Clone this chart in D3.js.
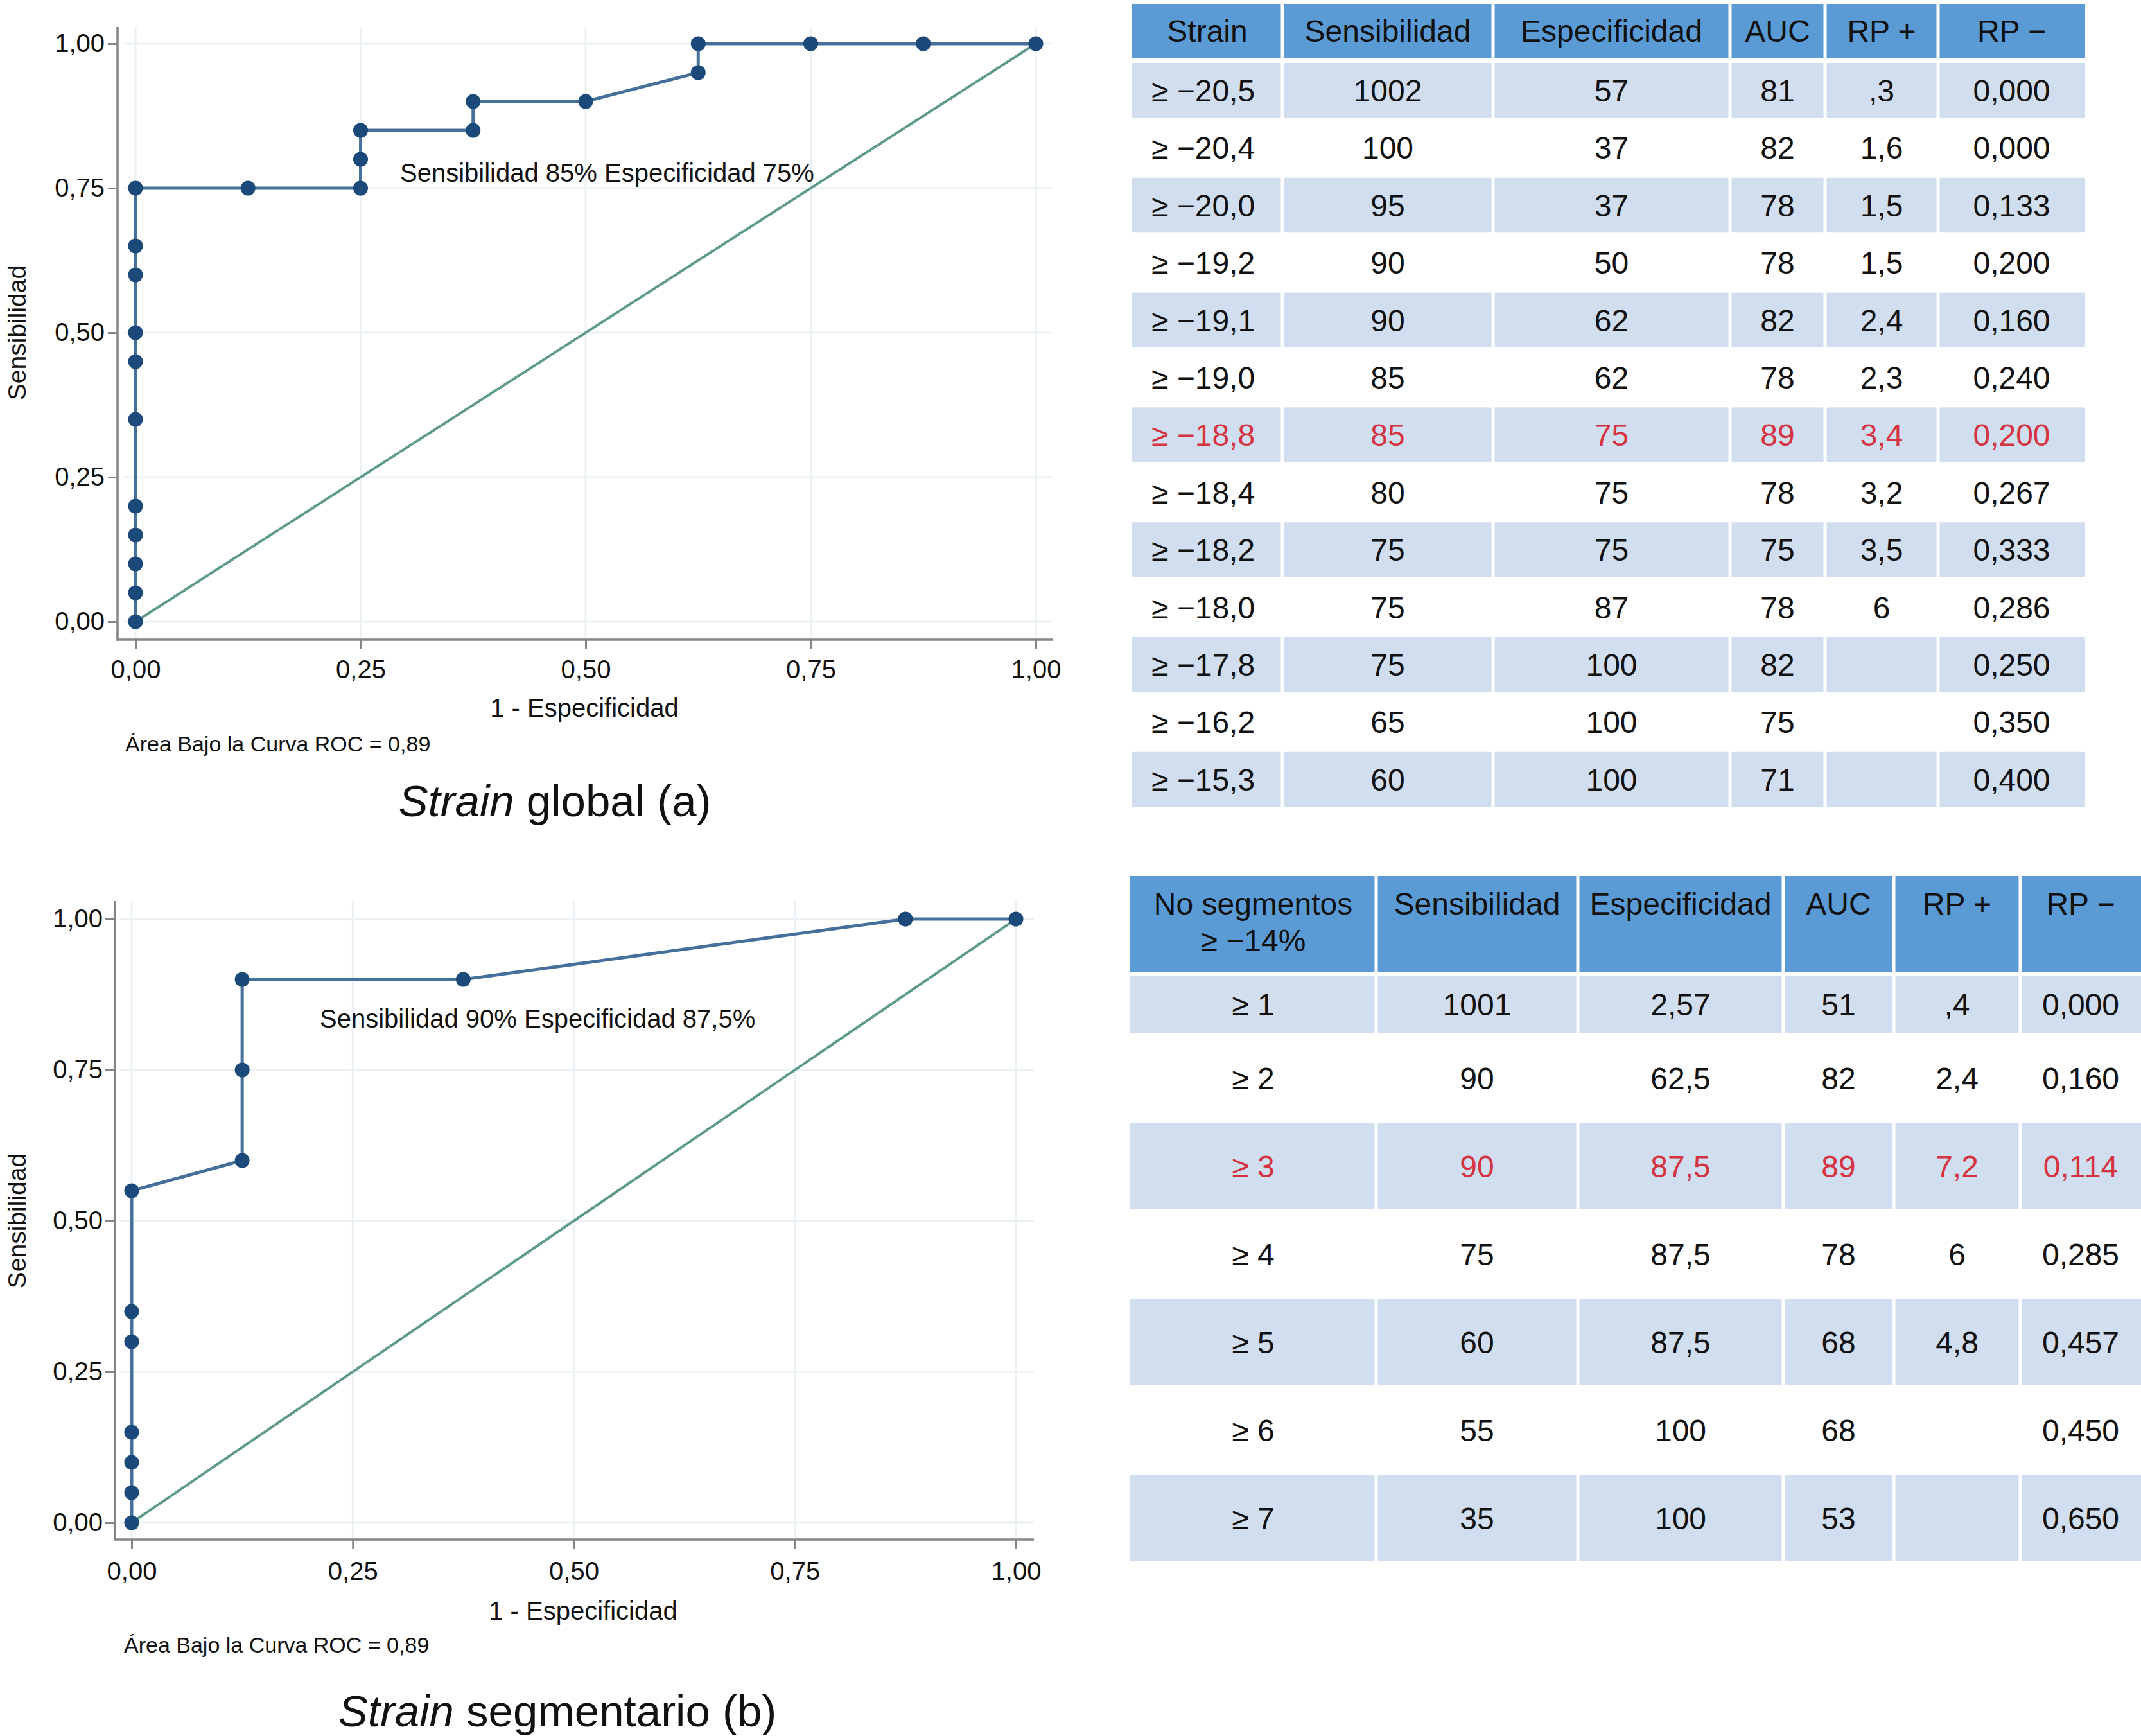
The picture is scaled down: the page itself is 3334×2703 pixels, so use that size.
<!DOCTYPE html>
<html>
<head>
<meta charset="utf-8">
<script src="https://cdn.jsdelivr.net/npm/d3@7"></script>
<style>
  html, body { margin: 0; padding: 0; background: #fff; }
  svg text { font-family: "Liberation Sans", Arial, Helvetica, sans-serif; fill: #111; }
</style>
</head>
<body>
<div id="figure"></div>
<script>
// ROC curve (a) strain global : 1 - especificidad / sensibilidad
const rocAX = [0, 0, 0, 0, 0, 0, 0, 0, 0, 0, 0, 0.125, 0.25, 0.25, 0.25, 0.375, 0.375, 0.5, 0.625, 0.625, 0.75, 0.875, 1];
const rocAY = [0, 0.05, 0.10, 0.15, 0.20, 0.35, 0.45, 0.50, 0.60, 0.65, 0.75, 0.75, 0.75, 0.80, 0.85, 0.85, 0.90, 0.90, 0.95, 1, 1, 1, 1];
// ROC curve (b) strain segmentario
const rocBX = [0, 0, 0, 0, 0, 0, 0, 0.125, 0.125, 0.125, 0.375, 0.875, 1];
const rocBY = [0, 0.05, 0.10, 0.15, 0.30, 0.35, 0.55, 0.60, 0.75, 0.90, 0.90, 1, 1];

const tickValues = [0, 0.25, 0.5, 0.75, 1];
const tickLabels = ["0,00", "0,25", "0,50", "0,75", "1,00"];

// table (a)
const headA = ["Strain", "Sensibilidad", "Especificidad", "AUC", "RP +", "RP \u2212"];
const cutA = ["\u2265 \u221220,5", "\u2265 \u221220,4", "\u2265 \u221220,0", "\u2265 \u221219,2", "\u2265 \u221219,1", "\u2265 \u221219,0", "\u2265 \u221218,8",
              "\u2265 \u221218,4", "\u2265 \u221218,2", "\u2265 \u221218,0", "\u2265 \u221217,8", "\u2265 \u221216,2", "\u2265 \u221215,3"];
const sensA = ["1002", "100", "95", "90", "90", "85", "85", "80", "75", "75", "75", "65", "60"];
const specA = ["57", "37", "37", "50", "62", "62", "75", "75", "75", "87", "100", "100", "100"];
const aucA = ["81", "82", "78", "78", "82", "78", "89", "78", "75", "78", "82", "75", "71"];
const rpPosA = [",3", "1,6", "1,5", "1,5", "2,4", "2,3", "3,4", "3,2", "3,5", "6", "", "", ""];
const rpNegA = ["0,000", "0,000", "0,133", "0,200", "0,160", "0,240", "0,200", "0,267", "0,333", "0,286", "0,250", "0,350", "0,400"];
const bestA = 6;

// table (b)
const headB = [["No segmentos", "\u2265 \u221214%"], ["Sensibilidad"], ["Especificidad"], ["AUC"], ["RP +"], ["RP \u2212"]];
const cutB = ["\u2265 1", "\u2265 2", "\u2265 3", "\u2265 4", "\u2265 5", "\u2265 6", "\u2265 7"];
const sensB = ["1001", "90", "90", "75", "60", "55", "35"];
const specB = ["2,57", "62,5", "87,5", "87,5", "87,5", "100", "100"];
const aucB = ["51", "82", "89", "78", "68", "68", "53"];
const rpPosB = [",4", "2,4", "7,2", "6", "4,8", "", ""];
const rpNegB = ["0,000", "0,160", "0,114", "0,285", "0,457", "0,450", "0,650"];
const bestB = 2;

const W = 3334, H = 2703;
const lineCol = "#46709c", dotCol = "#1b4a7a", diagCol = "#5f9b8d";
const axisCol = "#858585", gridCol = "#eaf1f4";
const headCol = "#5b9bd5", bandCol = "#d1deef", redCol = "#d4333f";

const svg = d3.select("#figure").append("svg")
    .attr("width", W).attr("height", H)
    .attr("viewBox", `0 0 ${W} ${H}`);
svg.append("rect").attr("width", W).attr("height", H).attr("fill", "#fff");

function drawRoc(cfg, xs_, ys_, note, titleRest) {
    const g = svg.append("g");
    const x = d3.scaleLinear().domain([0, 1]).range(cfg.xr);
    const y = d3.scaleLinear().domain([0, 1]).range(cfg.yr);

    // grid
    g.selectAll(".gx").data(tickValues).enter().append("line")
        .attr("x1", d => x(d)).attr("x2", d => x(d))
        .attr("y1", cfg.top).attr("y2", cfg.bottom)
        .attr("stroke", gridCol).attr("stroke-width", 3);
    g.selectAll(".gy").data(tickValues).enter().append("line")
        .attr("x1", cfg.left + 8).attr("x2", cfg.right)
        .attr("y1", d => y(d)).attr("y2", d => y(d))
        .attr("stroke", gridCol).attr("stroke-width", 3);

    // axes
    const fmt = d => tickLabels[tickValues.indexOf(d)];
    const yAxis = g.append("g").attr("transform", `translate(${cfg.left},0)`)
        .call(d3.axisLeft(y).tickValues(tickValues).tickFormat(fmt)
            .tickSizeInner(cfg.tick).tickSizeOuter(0).tickPadding(cfg.ypad));
    const xAxis = g.append("g").attr("transform", `translate(0,${cfg.bottom})`)
        .call(d3.axisBottom(x).tickValues(tickValues).tickFormat(fmt)
            .tickSizeInner(cfg.tick).tickSizeOuter(0).tickPadding(cfg.xpad));
    [yAxis, xAxis].forEach(a => {
        a.select(".domain").remove();
        a.selectAll(".tick line").attr("stroke", axisCol).attr("stroke-width", 3);
        a.selectAll(".tick text").attr("font-size", 40).attr("fill", "#111")
            .attr("font-family", "Liberation Sans, Arial, sans-serif");
    });
    g.append("line").attr("x1", cfg.left).attr("x2", cfg.left)
        .attr("y1", cfg.top).attr("y2", cfg.bottom + 1.5)
        .attr("stroke", axisCol).attr("stroke-width", 3.5);
    g.append("line").attr("x1", cfg.left - 1.5).attr("x2", cfg.right)
        .attr("y1", cfg.bottom).attr("y2", cfg.bottom)
        .attr("stroke", axisCol).attr("stroke-width", 3.5);

    // reference diagonal
    g.append("path")
        .attr("d", d3.line().x(d => x(d)).y(d => y(d))([0, 1]))
        .attr("fill", "none").attr("stroke", diagCol).attr("stroke-width", 4);

    const pts = xs_.map((v, i) => [v, ys_[i]]);
    g.append("path")
        .attr("d", d3.line().x(d => x(d[0])).y(d => y(d[1]))(pts))
        .attr("fill", "none").attr("stroke", lineCol).attr("stroke-width", 5);
    g.selectAll(".pt").data(pts).enter().append("circle")
        .attr("cx", d => x(d[0])).attr("cy", d => y(d[1]))
        .attr("r", 11.5).attr("fill", dotCol);

    g.append("text").attr("x", cfg.noteX).attr("y", cfg.noteY)
        .attr("font-size", 40).text(note);

    g.append("text")
        .attr("transform", `translate(${cfg.ytX},${(cfg.yr[0] + cfg.yr[1]) / 2}) rotate(-90)`)
        .attr("text-anchor", "middle").attr("font-size", 39).text("Sensibilidad");
    g.append("text").attr("x", cfg.xtX).attr("y", cfg.xtY)
        .attr("text-anchor", "middle").attr("font-size", 40).text("1 - Especificidad");
    g.append("text").attr("x", cfg.aucX).attr("y", cfg.aucY)
        .attr("font-size", 34).text("\u00c1rea Bajo la Curva ROC = 0,89");

    const t = g.append("text").attr("x", cfg.titleX).attr("y", cfg.titleY)
        .attr("text-anchor", "middle").attr("font-size", 69);
    t.append("tspan").attr("font-style", "italic").text("Strain");
    t.append("tspan").text(" " + titleRest);
}

drawRoc({xr: [211, 1613], yr: [968, 68], left: 183, right: 1640, top: 42, bottom: 996,
         tick: 15, ypad: 5, xpad: 17, noteX: 623, noteY: 283, ytX: 40, xtX: 910, xtY: 1116,
         aucX: 195, aucY: 1170, titleX: 864, titleY: 1271},
        rocAX, rocAY, "Sensibilidad 85% Especificidad 75%", "global (a)");

drawRoc({xr: [205, 1582], yr: [2371, 1431], left: 179, right: 1610, top: 1403, bottom: 2397,
         tick: 15, ypad: 4, xpad: 20, noteX: 498, noteY: 1600, ytX: 40, xtX: 908, xtY: 2522,
         aucX: 193, aucY: 2573, titleX: 868, titleY: 2688},
        rocBX, rocBY, "Sensibilidad 90% Especificidad 87,5%", "segmentario (b)");

function drawTable(cfg, header, cols, best) {
    const g = svg.append("g");
    const edges = cfg.edges;
    const nRows = cols[0].length;
    const gap = 2.5;
    const cellX = j => edges[j] + (j > 0 ? gap : 0);
    const cellW = j => edges[j + 1] - (j < edges.length - 2 ? gap : 0) - cellX(j);

    // header
    header.forEach((h, j) => {
        g.append("rect").attr("x", cellX(j)).attr("y", cfg.headTop)
            .attr("width", cellW(j)).attr("height", cfg.headBot - cfg.headTop)
            .attr("fill", headCol);
        const lines = Array.isArray(h) ? h : [h];
        lines.forEach((s, k) => {
            g.append("text").attr("x", (edges[j] + edges[j + 1]) / 2)
                .attr("y", cfg.headBase + k * cfg.headLine)
                .attr("text-anchor", "middle").attr("font-size", 48).text(s);
        });
    });

    for (let i = 0; i < nRows; i++) {
        const top = cfg.rowTop(i), bot = cfg.rowTop(i + 1);
        cols.forEach((c, j) => {
            if (i % 2 === 0) {
                g.append("rect").attr("x", cellX(j)).attr("y", top + 2)
                    .attr("width", cellW(j)).attr("height", bot - top - 4)
                    .attr("fill", bandCol);
            }
            const tx = j === 0 && cfg.leftFirst ? edges[0] + 30 : (edges[j] + edges[j + 1]) / 2;
            g.append("text").attr("x", tx).attr("y", (top + bot) / 2).attr("dy", "0.36em")
                .attr("text-anchor", j === 0 && cfg.leftFirst ? "start" : "middle")
                .attr("font-size", 48)
                .style("fill", i === best ? redCol : "#111")
                .text(c[i]);
        });
    }
}

drawTable({edges: [1763, 1997, 2325, 2694, 2842, 3018, 3247], headTop: 6, headBot: 90, headBase: 65, headLine: 0,
           rowTop: i => 96 + i * 89.4, leftFirst: true},
          headA, [cutA, sensA, specA, aucA, rpPosA, rpNegA], bestA);

drawTable({edges: [1760, 2143, 2457, 2777, 2949, 3146, 3334], headTop: 1364, headBot: 1513, headBase: 1424, headLine: 57,
           rowTop: i => i === 0 ? 1518 : 1610 + (i - 1) * 137, leftFirst: false},
          headB, [cutB, sensB, specB, aucB, rpPosB, rpNegB], bestB);
</script>
</body>
</html>
